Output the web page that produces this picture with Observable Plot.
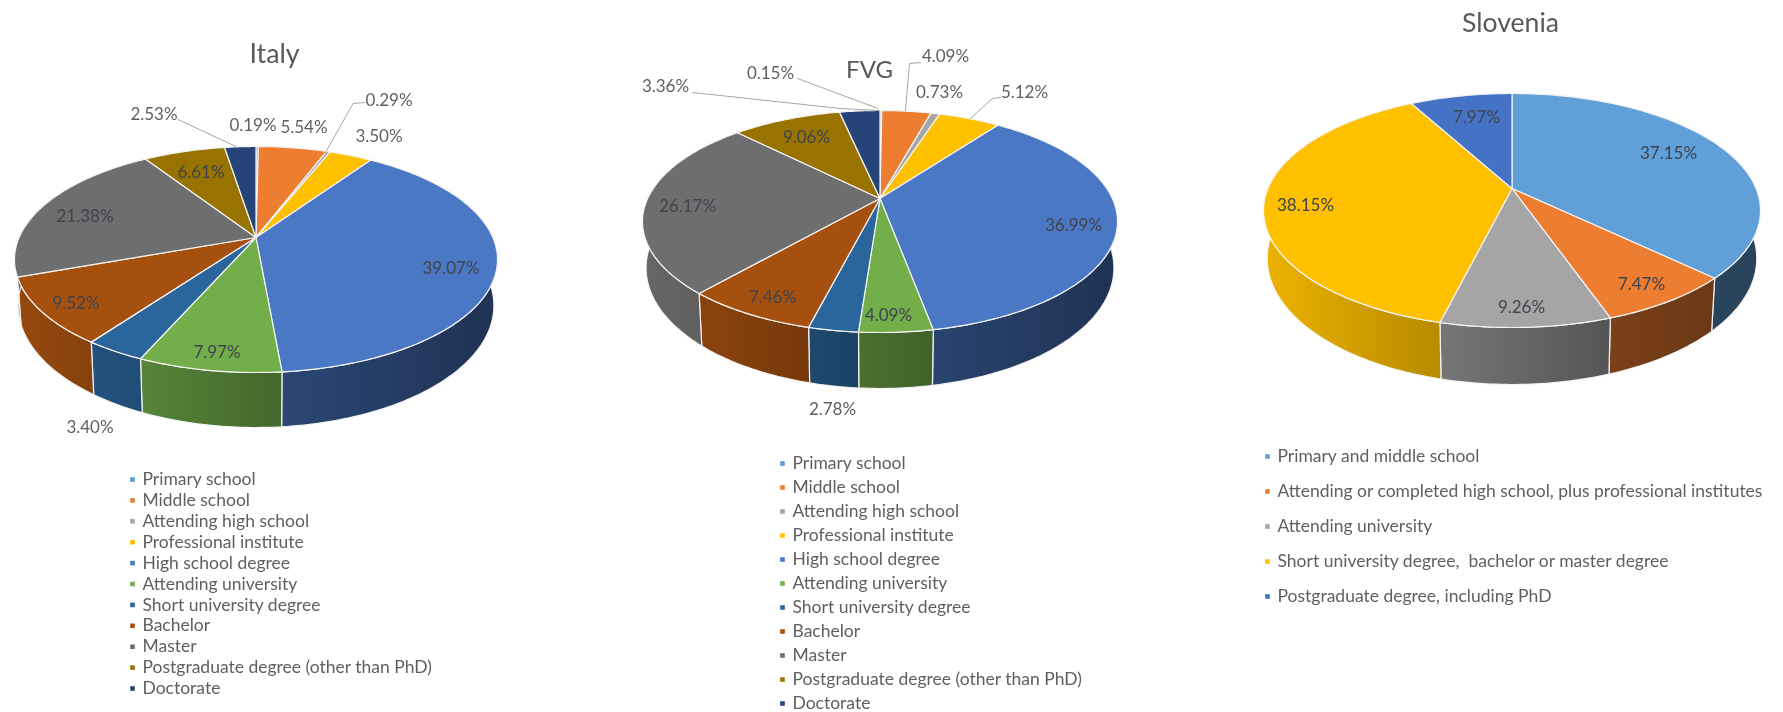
<!DOCTYPE html>
<html>
<head>
<meta charset="utf-8">
<script src="https://cdn.jsdelivr.net/npm/d3@7"></script>
<script src="https://cdn.jsdelivr.net/npm/@observablehq/plot@0.6"></script>
<style>
html,body{margin:0;padding:0;background:#fff;overflow:hidden}
svg{display:block;filter:blur(.6px)}
</style>
</head>
<body>
<script>
// ---- data ----
const categoriesItaly = ["Primary school","Middle school","Attending high school","Professional institute","High school degree","Attending university","Short university degree","Bachelor","Master","Postgraduate degree (other than PhD)","Doctorate"];
const valuesItaly = [0.19,5.54,0.29,3.50,39.07,7.97,3.40,9.52,21.38,6.61,2.53];
const categoriesFVG = categoriesItaly;
const valuesFVG = [0.15,4.09,0.73,5.12,36.99,4.09,2.78,7.46,26.17,9.06,3.36];
const categoriesSlovenia = ["Primary and middle school","Attending or completed high school, plus professional institutes","Attending university","Short university degree,  bachelor or master degree","Postgraduate degree, including PhD"];
const valuesSlovenia = [37.15,7.47,9.26,38.15,7.97];
const paletteEleven = ["#5b9bd5","#ed7d31","#a5a5a5","#ffc000","#4a78c5","#72ae4a","#2a659b","#a5500f","#6e6e6e","#997300","#264478"];
const paletteFive = ["#619fd8","#ed7d31","#a5a5a5","#ffc000","#4472c4"];

// ---- layout (pie geometry, label offsets from pie centre, legend rows) ----
const layout = [
  {name:"Italy", cats:categoriesItaly, vals:valuesItaly, colors:paletteEleven,
   cx:255.5, cy:237, rx:241.5, up:91, down:135, wall:55,
   title:[274,62], titleSize:26.8,
   labelOffsets:[[-3,-112],[48,-110],[133,-137],[123,-101],[195,31],[-39,115],[-166,190],[-180,66],[-171,-21],[-55,-65],[-102,-123]],
   inside:[false,false,false,false,true,true,false,true,true,true,false],
   leaders:[[[-78,-118],[-20,-91]],[[109,-135],[97,-134],[69,-84]]],
   legendX:132, legendY:479, legendStep:20.9},
  {name:"FVG", cats:categoriesFVG, vals:valuesFVG, colors:paletteEleven,
   cx:879.5, cy:198, rx:237.5, up:88, down:134, wall:56,
   title:[869,77], titleSize:24,
   labelOffsets:[[-109.5,-125],[65.5,-142],[59.5,-106],[144.5,-106],[193.5,27],[8.5,117],[-47.5,211],[-107.5,99],[-192.5,8],[-73.5,-61],[-214.5,-112]],
   inside:[false,false,false,false,true,true,false,true,true,true,false],
   leaders:[[[-82.5,-120],[-2,-90]],[[-187.5,-106],[-39.5,-90],[-1,-88]],[[40.5,-136],[29.5,-135],[25.5,-88]],[[120.5,-101],[112.5,-100],[90.5,-80]]],
   legendX:782, legendY:463, legendStep:24},
  {name:"Slovenia", cats:categoriesSlovenia, vals:valuesSlovenia, colors:paletteFive,
   cx:1511.5, cy:188, rx:248.5, up:95, down:139, wall:57,
   title:[1510,31], titleSize:26.6,
   labelOffsets:[[156.5,-35],[129.5,96],[9.5,119],[-206.5,17],[-35.5,-71]],
   inside:[true,true,true,true,true],
   leaders:[],
   legendX:1267, legendY:456, legendStep:35}
];
const wallShade = d3.scaleLinear().domain([-1,-0.25,0,0.45,1]).range([0.93,0.72,0.62,0.48,0.42]);
const ringScale = 0.985;
const toRad = p => p/100*2*Math.PI;

// ---- derived geometry ----
const topFaces=[], walls=[], labels=[], leaderPts=[], legendRows=[], titles=[], gradients=[];
layout.forEach(pie=>{
  const p=(pie.down-pie.up)/(pie.down+pie.up);
  const ry0=pie.up*(1+p), rx0=pie.rx*Math.sqrt(1-p*p);
  const h=pie.wall*(1-p);
  const rimTop=t=>{const w=1+p*Math.cos(t);return [pie.cx+rx0*Math.sin(t)/w, pie.cy-ry0*Math.cos(t)/w];};
  const rimLow=t=>{const w=1+p*Math.cos(t);return [pie.cx+ringScale*rx0*Math.sin(t)/w, pie.cy+(h-ry0*Math.cos(t))/w];};
  const total=d3.sum(pie.vals);
  let cum=0;
  pie.vals.forEach((v,i)=>{
    const a=toRad(cum/total*100), b=toRad((cum+v)/total*100);
    cum+=v;
    const n=Math.max(2,Math.ceil((b-a)/(Math.PI/180)));
    const ts=d3.range(n+1).map(k=>a+(b-a)*k/n);
    const id=`${pie.name}-${i}`;
    const color=pie.colors[i];
    const face=[[pie.cx,pie.cy],...ts.map(rimTop),[pie.cx,pie.cy]];
    face.forEach(q=>topFaces.push({id,x:q[0],y:q[1],fill:color}));
    const sines=ts.filter(t=>Math.cos(t)<0.2).map(Math.sin);
    if(sines.length){
      const gid=`wall-${id}`;
      const c=d3.rgb(color);
      const dark=f=>d3.rgb(c.r*f,c.g*f,c.b*f).formatHex();
      gradients.push({gid,from:dark(wallShade(d3.min(sines))),to:dark(wallShade(d3.max(sines)))});
      const poly=[...ts.map(rimTop),...ts.slice().reverse().map(rimLow)];
      poly.push(poly[0]);
      poly.forEach(q=>walls.push({id,x:q[0],y:q[1],fill:`url(#${gid})`}));
    }
    const o=pie.labelOffsets[i];
    labels.push({x:pie.cx+o[0],y:pie.cy+o[1],text:v.toFixed(2)+"%",inside:pie.inside[i]});
  });
  pie.leaders.forEach((l,k)=>l.forEach(q=>leaderPts.push({id:`${pie.name}-${k}`,x:pie.cx+q[0],y:pie.cy+q[1]})));
  pie.cats.forEach((c,i)=>legendRows.push({label:c,color:pie.colors[i],x:pie.legendX,y:pie.legendY+i*pie.legendStep}));
  titles.push({x:pie.title[0],y:pie.title[1],text:pie.name,size:pie.titleSize});
});

const defsMark=()=>{
  const defs=d3.create("svg:defs");
  gradients.forEach(g=>{
    const lg=defs.append("linearGradient").attr("id",g.gid).attr("x1",0).attr("x2",1).attr("y1",0).attr("y2",0);
    lg.append("stop").attr("offset",0).attr("stop-color",g.from);
    lg.append("stop").attr("offset",1).attr("stop-color",g.to);
  });
  return defs.node();
};

const chart=Plot.plot({
  width:1783,height:712,margin:0,
  style:{fontFamily:"Lato",background:"#fff"},
  x:{domain:[0,1783],axis:null},
  y:{domain:[712,0],axis:null},
  color:{type:"identity"},
  marks:[
    defsMark,
    Plot.line(walls,{x:"x",y:"y",z:"id",fill:"fill",stroke:"#f4f4f4",strokeWidth:1.2,curve:"linear"}),
    Plot.line(topFaces,{x:"x",y:"y",z:"id",fill:"fill",stroke:"#f4f4f4",strokeWidth:1.2,curve:"linear"}),
    Plot.line(leaderPts,{x:"x",y:"y",z:"id",stroke:"#a6a6a6",strokeWidth:1,curve:"linear"}),
    ...titles.map(t=>Plot.text([t],{x:"x",y:"y",text:"text",fontSize:t.size,fill:"#595959",lineAnchor:"bottom",textAnchor:"middle"})),
    Plot.text(labels,{x:"x",y:"y",text:"text",fontSize:17,textAnchor:"middle",fill:d=>d.inside?"#3f444f":"#5f5f5f"}),
    Plot.dot(legendRows,{x:"x",y:"y",symbol:"square",r:2.6,fill:"color"}),
    Plot.text(legendRows,{x:"x",y:"y",text:"label",dx:10,textAnchor:"start",fontSize:17.5,fill:"#5f5f5f"})
  ]
});
document.body.append(chart);
</script>
</body>
</html>
